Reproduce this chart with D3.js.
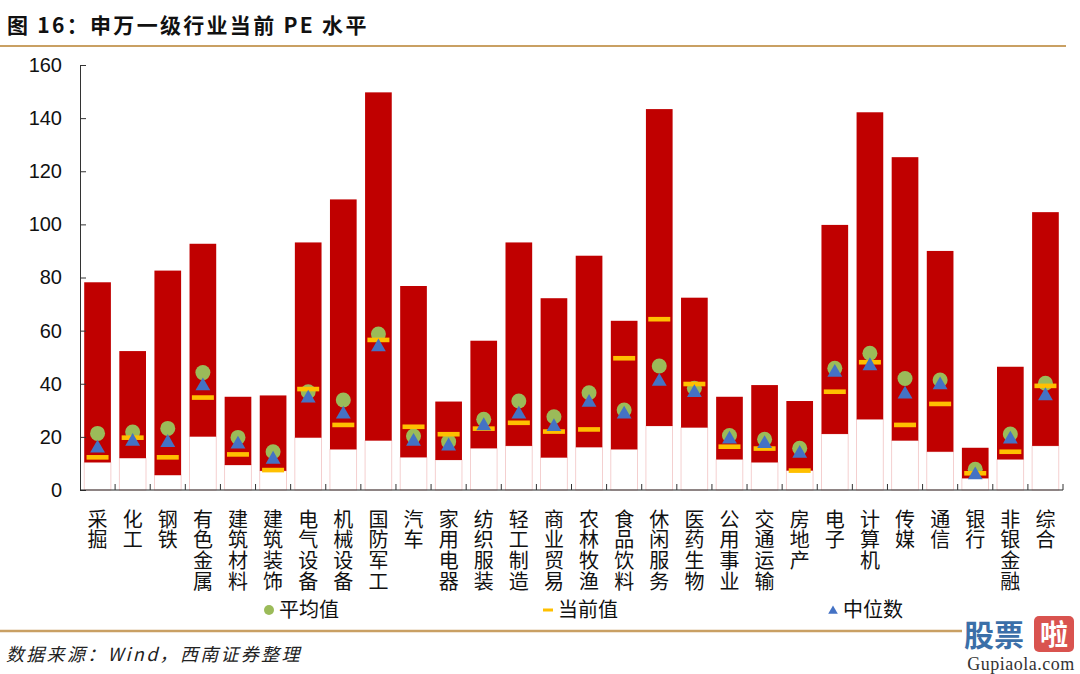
<!DOCTYPE html>
<html>
<head>
<meta charset="utf-8">
<script src="https://cdn.jsdelivr.net/npm/d3@7"></script>
<style>
html,body{margin:0;padding:0;background:#fff;}
svg{display:block;}
</style>
</head>
<body>
<svg id="chart" width="1080" height="674"></svg>
<script>
const categories = ["采掘","化工","钢铁","有色金属","建筑材料","建筑装饰","电气设备","机械设备","国防军工","汽车","家用电器","纺织服装","轻工制造","商业贸易","农林牧渔","食品饮料","休闲服务","医药生物","公用事业","交通运输","房地产","电子","计算机","传媒","通信","银行","非银金融","综合"];
const minPE  = [10.4,12.0,5.6,20.1,9.4,7.2,19.7,15.3,18.6,12.3,11.3,15.7,16.6,12.2,16.1,15.3,24.1,23.5,11.5,10.4,7.3,21.1,26.6,18.6,14.4,4.4,11.5,16.6];
const maxPE  = [78.2,52.3,82.6,92.7,35.1,35.6,93.2,109.4,149.7,76.8,33.3,56.2,93.2,72.2,88.2,63.7,143.4,72.4,35.1,39.5,33.5,99.8,142.2,125.3,90.0,15.9,46.4,104.6];
const meanPE = [21.3,21.8,23.2,44.2,19.8,14.4,37.0,33.9,58.7,20.3,18.2,26.6,33.5,27.6,36.6,30.1,46.7,38.3,20.5,19.1,15.7,45.8,51.5,42.0,41.4,7.8,21.1,40.2];
const currentPE = [12.3,19.7,12.3,34.8,13.4,7.5,38.0,24.5,56.5,23.8,21.0,23.1,25.3,22.0,22.8,49.6,64.3,39.9,16.3,15.6,7.3,37.0,48.1,24.5,32.4,6.3,14.4,39.2];
const medianPE = [16.1,18.6,18.2,39.5,17.6,11.9,34.9,28.9,54.2,18.6,16.9,24.5,28.9,24.2,33.3,28.9,41.2,37.0,19.5,17.8,14.1,44.6,47.1,36.4,39.9,6.0,19.5,35.8];
const yTicks = [0,20,40,60,80,100,120,140,160];
const legendLabels = ["平均值","当前值","中位数"];
const titleText = "图 16：申万一级行业当前 PE 水平";
const sourceText = "数据来源：Wind，西南证券整理";

const C_RED = "#C00000", C_GREEN = "#9BBB59", C_YELLOW = "#FFC000", C_BLUE = "#4472C4", C_GOLD = "#C9A063";
const FONT = "'Liberation Sans', Arial, 'Noto Sans CJK SC', sans-serif";
const CJK = "'Noto Sans CJK SC', sans-serif";

const svg = d3.select("#chart");
const pLeft = 80, pRight = 1063, pTop = 65, pBottom = 490;

const x = d3.scaleBand().domain(categories).range([pLeft, pRight]).paddingInner(0.24).paddingOuter(0.12);
const xb = d3.scaleBand().domain(categories).range([pLeft, pRight]);
const y = d3.scaleLinear().domain([0, 160]).range([pBottom, pTop]);

// Title
svg.append("text").attr("x", 7).attr("y", 33).attr("font-family", CJK).attr("font-weight", "bold")
  .attr("font-size", 21).attr("letter-spacing", 2.3).attr("fill", "#111").text(titleText);
svg.append("line").attr("x1", 0).attr("x2", 1066).attr("y1", 46).attr("y2", 46)
  .attr("stroke", C_GOLD).attr("stroke-width", 2.2);

const data = categories.map((c, i) => ({c, min: minPE[i], max: maxPE[i], mean: meanPE[i], cur: currentPE[i], med: medianPE[i]}));

// white base bars
svg.append("g").selectAll("rect").data(data).join("rect")
  .attr("x", d => x(d.c)).attr("width", x.bandwidth())
  .attr("y", d => y(d.min)).attr("height", d => y(0) - y(d.min))
  .attr("fill", "#fff").attr("stroke", "#F2C4C4").attr("stroke-width", 0.8);

// range bars
svg.append("g").selectAll("rect").data(data).join("rect")
  .attr("x", d => x(d.c)).attr("width", x.bandwidth())
  .attr("y", d => y(d.max)).attr("height", d => y(d.min) - y(d.max))
  .attr("fill", C_RED);

// Axes
const yAxis = d3.axisLeft(y).tickValues(yTicks).tickSizeInner(-6).tickSizeOuter(0).tickPadding(18);
const gy = svg.append("g").attr("transform", `translate(${pLeft},0)`).call(yAxis);
gy.select(".domain").attr("stroke", "#333");
gy.selectAll(".tick line").attr("stroke", "#333");
gy.selectAll(".tick text").attr("font-family", FONT).attr("font-size", 20).attr("fill", "#111");

svg.append("line").attr("x1", pLeft).attr("x2", pRight).attr("y1", pBottom).attr("y2", pBottom).attr("stroke", "#222").attr("stroke-width", 1.2);
svg.append("g").selectAll("line").data(categories).join("line")
  .attr("x1", (d, i) => pLeft + xb.step() * (i + 1)).attr("x2", (d, i) => pLeft + xb.step() * (i + 1))
  .attr("y1", pBottom).attr("y2", pBottom - 6).attr("stroke", "#333");

// x labels vertical (upright CJK, one text per category)
svg.append("g").selectAll("text").data(categories).join("text")
  .attr("x", c => x(c) + x.bandwidth() / 2).attr("y", 509)
  .attr("font-family", CJK).attr("font-size", 20).attr("fill", "#111")
  .style("writing-mode", "vertical-rl").style("text-orientation", "upright")
  .attr("letter-spacing", 0.8)
  .text(c => c);

// markers
const cxf = d => x(d.c) + x.bandwidth() / 2;
svg.append("g").selectAll("circle").data(data).join("circle")
  .attr("cx", cxf).attr("cy", d => y(d.mean)).attr("r", 7.5).attr("fill", C_GREEN);
svg.append("g").selectAll("rect").data(data).join("rect")
  .attr("x", d => cxf(d) - 11).attr("y", d => y(d.cur) - 2.3).attr("width", 22).attr("height", 4.6).attr("fill", C_YELLOW);
const tri = d3.symbol().type(d3.symbolTriangle).size(95);
svg.append("g").selectAll("path").data(data).join("path")
  .attr("d", tri).attr("transform", d => `translate(${cxf(d)},${y(d.med) + 1})`).attr("fill", C_BLUE);

// Legend
const lg = svg.append("g");
const ly = 610;
lg.append("circle").attr("cx", 269).attr("cy", ly).attr("r", 5).attr("fill", C_GREEN);
lg.append("rect").attr("x", 543).attr("y", ly - 1.5).attr("width", 10).attr("height", 3).attr("fill", C_YELLOW);
lg.append("path").attr("d", d3.symbol().type(d3.symbolTriangle).size(40)).attr("transform", `translate(833,${ly + 1})`).attr("fill", C_BLUE);
[[279, 0], [558, 1], [843, 2]].forEach(([lx, i]) => {
  lg.append("text").attr("x", lx).attr("y", ly + 7).attr("font-family", CJK).attr("font-size", 20).attr("fill", "#111").text(legendLabels[i]);
});

// bottom rule & source
svg.append("line").attr("x1", 0).attr("x2", 962).attr("y1", 631).attr("y2", 631).attr("stroke", C_GOLD).attr("stroke-width", 2.5);
svg.append("text").attr("x", 6).attr("y", 661).attr("font-family", CJK).attr("font-style", "italic")
  .attr("font-size", 18).attr("letter-spacing", 2.3).attr("fill", "#222").text(sourceText);

// watermark
const wm = svg.append("g");
wm.append("text").attr("x", 964).attr("y", 646).attr("font-family", CJK).attr("font-weight", "bold").attr("font-size", 30).attr("fill", "#3B6FA8").text("股票");
wm.append("rect").attr("x", 1034).attr("y", 616).attr("width", 40).attr("height", 36).attr("rx", 5).attr("fill", "#D9534F");
wm.append("text").attr("x", 1054).attr("y", 645).attr("text-anchor", "middle").attr("font-family", CJK).attr("font-weight", "bold").attr("font-size", 28).attr("fill", "#fff").text("啦");
wm.append("text").attr("x", 1021).attr("y", 670).attr("text-anchor", "middle").attr("font-family", "'Liberation Serif', serif").attr("font-size", 18).attr("letter-spacing", 0.5).attr("fill", "#333").text("Gupiaola.com");
</script>
</body>
</html>
